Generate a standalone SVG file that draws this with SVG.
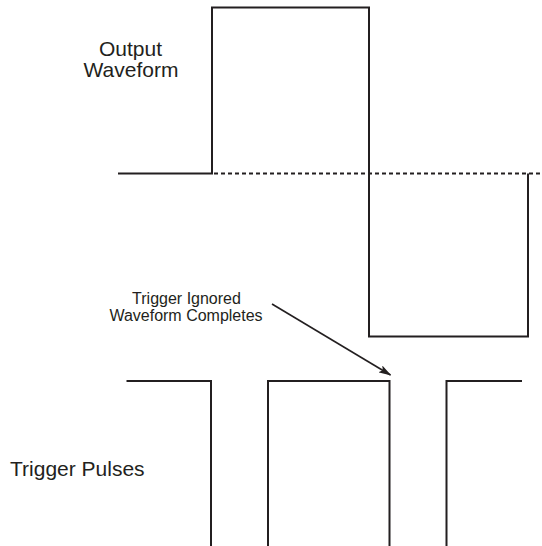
<svg xmlns="http://www.w3.org/2000/svg" width="542" height="546" viewBox="0 0 542 546">
<style>
.w{fill:none;stroke:#231f20;stroke-width:2;stroke-linejoin:miter}
.d{fill:none;stroke:#231f20;stroke-width:1.8;stroke-dasharray:4 3}
.t{font-family:"Liberation Sans",Arial,sans-serif;fill:#231f20}
</style>
<defs>
<marker id="ah" markerWidth="13" markerHeight="8" refX="12" refY="4" orient="auto" markerUnits="userSpaceOnUse">
<path d="M0,0 L13,4 L0,8 L3,4 Z" fill="#231f20"/>
</marker>
</defs>
<rect width="542" height="546" fill="#fff"/>
<g id="output-label"><text class="t" font-size="21" text-anchor="middle" x="130.5" y="56">Output</text><text class="t" font-size="21" text-anchor="middle" x="131" y="77">Waveform</text></g>
<g id="output-waveform">
<path class="w" d="M118,173.5 H212 V7.5 H369 V336.5 H528 V173.5"/>
<path class="d" d="M214,173.5 H541"/>
</g>
<g id="trigger-label"><text class="t" font-size="21" x="10" y="476">Trigger Pulses</text></g>
<g id="trigger-pulses">
<path class="w" stroke-width="1.6" d="M126.5,381 H211 V546"/>
<path class="w" stroke-width="1.6" d="M268,546 V381 H389.5 V546"/>
<path class="w" stroke-width="1.6" d="M446.5,546 V381 H522"/>
</g>
<g id="note"><text class="t" font-size="16" text-anchor="middle" x="186.5" y="304">Trigger Ignored</text><text class="t" font-size="16" text-anchor="middle" x="186" y="321">Waveform Completes</text></g>
<g id="connectors">
<line x1="272" y1="304" x2="390.5" y2="375" stroke="#231f20" stroke-width="1.6" marker-end="url(#ah)"/>
</g>
</svg>
